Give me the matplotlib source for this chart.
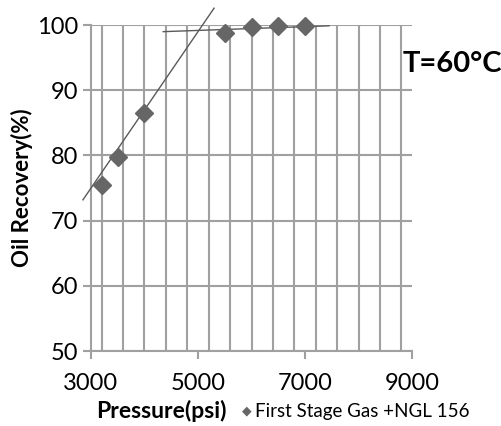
import matplotlib
matplotlib.use("Agg")
import matplotlib.pyplot as plt
from matplotlib.ticker import MultipleLocator

plt.rcParams["font.family"] = ["Lato", "DejaVu Sans"]

# measured points
pressure = [3200, 3500, 4000, 5500, 6000, 6500, 7000]
recovery = [75.4, 79.7, 86.5, 98.8, 99.7, 99.8, 99.8]

# hand-drawn trend lines (end points)
rise_x = [2850, 5300]
rise_y = [73.2, 102.6]
flat_x = [4350, 7450]
flat_y = [99.0, 99.9]

x_ticks = [3000, 5000, 7000, 9000]

GRID = "#a0a0a0"
MARK = "#666666"

fig = plt.figure(figsize=(5.01, 4.26), dpi=100)
ax = fig.add_axes([0.1816, 0.176, 0.6408, 0.765])

ax.set_xlim(3000, 9000)
ax.set_ylim(50, 100)
ax.set_xticks(x_ticks)
ax.xaxis.set_minor_locator(MultipleLocator(400))
ax.yaxis.set_major_locator(MultipleLocator(10))
ax.grid(True, which="major", axis="y", color=GRID, lw=1.5)
ax.grid(True, which="minor", axis="x", color=GRID, lw=1.5)
ax.tick_params(axis="both", which="major", length=6, width=1.5, color=GRID,
               labelsize=17, pad=3)
ax.tick_params(axis="x", which="minor", length=0)
ax.tick_params(axis="x", pad=10)
for s in ("top", "right"):
    ax.spines[s].set_visible(False)
for s in ("left", "bottom"):
    ax.spines[s].set_color(GRID)
    ax.spines[s].set_linewidth(1.5)
ax.set_axisbelow(True)

ax.plot(rise_x, rise_y, color="#5a5a5a", lw=1.0, clip_on=False, zorder=3)
ax.plot(flat_x, flat_y, color="#5a5a5a", lw=1.0, clip_on=False, zorder=3)
ax.plot(pressure, recovery, ls="none", marker="D", ms=9, color=MARK,
        mec=MARK, clip_on=False, zorder=4)

ax.set_ylabel("Oil Recovery(%)", fontsize=16, fontweight="bold", labelpad=3)
fig.text(0.323, 0.036, "Pressure(psi)", fontsize=16.5, fontweight="bold",
         ha="center", va="center")
fig.text(0.482, 0.036, "\u25c6", fontsize=9, color=MARK, ha="left",
         va="center", family="DejaVu Sans")
fig.text(0.509, 0.034, "First Stage Gas +NGL 156", fontsize=13.5,
         ha="left", va="center")
fig.text(0.804, 0.85, "T=60\u00b0C", fontsize=21, fontweight="bold",
         ha="left", va="center")

fig.savefig("out.png", dpi=100)
